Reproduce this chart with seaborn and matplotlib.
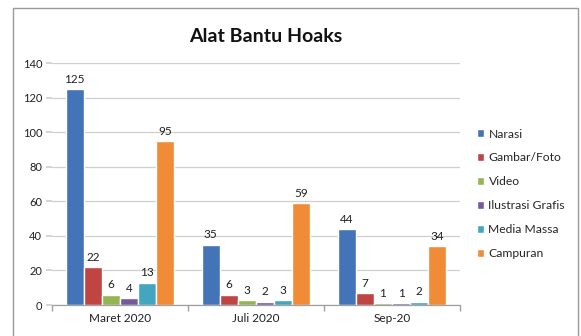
import matplotlib
matplotlib.use("Agg")
import matplotlib.pyplot as plt
import matplotlib.patches as mpatches
import seaborn as sns
import pandas as pd

periods = ["Maret 2020", "Juli 2020", "Sep-20"]
series = ["Narasi", "Gambar/Foto", "Video", "Ilustrasi Grafis", "Media Massa", "Campuran"]
narasi = [125, 35, 44]
gambar = [22, 6, 7]
video = [6, 3, 1]
ilustrasi = [4, 2, 1]
media = [13, 3, 2]
campuran = [95, 59, 34]
colors = ["#4374B8", "#BE4542", "#94B553", "#74599C", "#43A6C0", "#F08C38"]
yticks = [0, 20, 40, 60, 80, 100, 120, 140]

values = [narasi, gambar, video, ilustrasi, media, campuran]
rows = []
for s, vals in zip(series, values):
    for p, v in zip(periods, vals):
        rows.append({"Periode": p, "Jenis": s, "Jumlah": v})
df = pd.DataFrame(rows)

sns.set_theme(style="white")
plt.rcParams["font.family"] = ["Lato", "DejaVu Sans"]

fig = plt.figure(figsize=(5.81, 3.36), dpi=100)
# outer chart border
fig.patches.append(mpatches.Rectangle((12.5 / 581, -0.1), (578 - 12.5) / 581, 1.1 - 8 / 336,
                                      transform=fig.transFigure, fill=False,
                                      edgecolor="#9a9a9a", linewidth=1.0))
ax = fig.add_axes([52 / 581, 1 - 305 / 336, (460 - 52) / 581, (305 - 63) / 336])

sns.barplot(data=df, x="Periode", y="Jumlah", hue="Jenis", order=periods,
            hue_order=series, palette=colors, width=0.8, ax=ax, saturation=1,
            legend=True)

for cont in ax.containers:
    ax.bar_label(cont, padding=3, fontsize=8.5, color="#202020")

ax.set_ylim(0, 140)
ax.set_yticks(yticks)
ax.set_xlim(-0.5, 2.5)
ax.yaxis.grid(True, color="#cfcfcf", linewidth=0.9)
ax.set_axisbelow(True)
for sp in ["top", "right", "left"]:
    ax.spines[sp].set_visible(False)
ax.spines["bottom"].set_color("#a0a0a0")
ax.spines["bottom"].set_linewidth(0.9)
ax.set_xlabel("")
ax.set_ylabel("")
ax.tick_params(axis="y", labelsize=8, length=4, color="#cfcfcf", pad=3, left=True, labelcolor="#202020")
ax.tick_params(axis="x", labelsize=8.5, length=0, pad=6, labelcolor="#202020")
ax.set_xticks([-0.5, 0.5, 1.5, 2.5], minor=True)
ax.tick_params(axis="x", which="minor", length=4, color="#a0a0a0", direction="out", bottom=True)

handles, labels = ax.get_legend_handles_labels()
ax.legend(handles, labels, loc="upper left", bbox_to_anchor=(477 / 581, 1 - 128.5 / 336),
          bbox_transform=fig.transFigure, frameon=False, fontsize=8.7,
          handlelength=0.6, handleheight=0.6, handletextpad=0.35,
          labelspacing=1.07, borderaxespad=0, borderpad=0)

fig.text(266 / 581, 1 - 36 / 336, "Alat Bantu Hoaks", ha="center", va="center",
         fontsize=14, fontweight="bold", color="#111111")

fig.savefig("out.png", dpi=100)
